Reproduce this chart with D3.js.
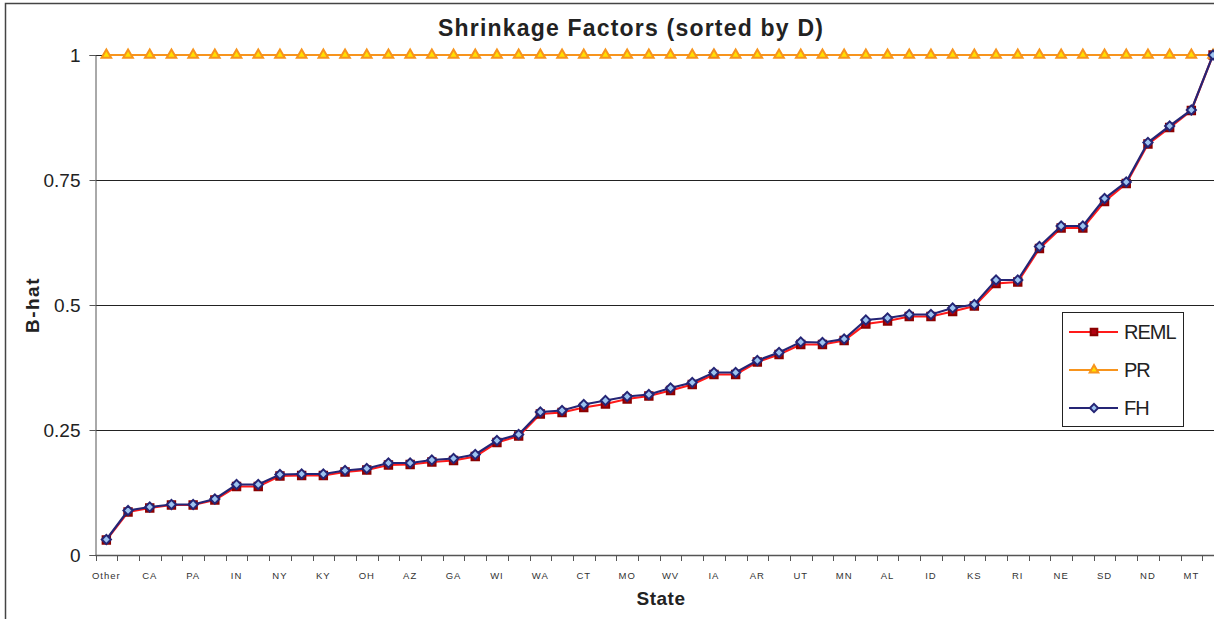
<!DOCTYPE html>
<html>
<head>
<meta charset="utf-8">
<script src="https://cdn.jsdelivr.net/npm/d3@7"></script>
<style>
  body { margin: 0; background: #fff; }
  svg { font-family: "Liberation Sans", Arial, sans-serif; }
</style>
</head>
<body>
<div id="chart"></div>
<script>
// states in order of D (only every other one is labelled on the axis)
var states = ['Other', 'TX', 'CA', 'FL', 'PA', 'NJ', 'IN', 'MA', 'NY', 'IL',
    'KY', 'NC', 'OH', 'MI', 'AZ', 'VA', 'GA', 'TN', 'WI', 'MD',
    'WA', 'OR', 'CT', 'SC', 'MO', 'OK', 'WV', 'CO', 'IA', 'LA',
    'AR', 'MS', 'UT', 'NV', 'MN', 'NM', 'AL', 'ME', 'ID', 'NH',
    'KS', 'HI', 'RI', 'DE', 'NE', 'VT', 'SD', 'WY', 'ND', 'AK',
    'MT', 'DC'];

var fh = [0.031, 0.089, 0.096, 0.101, 0.101, 0.112, 0.141, 0.141, 0.161, 0.162,
    0.162, 0.169, 0.173, 0.184, 0.184, 0.190, 0.193, 0.201, 0.229, 0.241,
    0.286, 0.289, 0.301, 0.309, 0.317, 0.321, 0.334, 0.345, 0.365, 0.365,
    0.389, 0.405, 0.426, 0.425, 0.432, 0.470, 0.474, 0.481, 0.481, 0.494,
    0.501, 0.550, 0.550, 0.617, 0.658, 0.658, 0.713, 0.746, 0.825, 0.858,
    0.890, 1.000];

var reml = [0.030, 0.086, 0.094, 0.100, 0.100, 0.110, 0.137, 0.137, 0.158, 0.159,
    0.159, 0.166, 0.170, 0.180, 0.181, 0.186, 0.189, 0.197, 0.225, 0.238,
    0.282, 0.285, 0.295, 0.302, 0.312, 0.318, 0.329, 0.341, 0.361, 0.361,
    0.386, 0.401, 0.421, 0.421, 0.429, 0.462, 0.468, 0.477, 0.477, 0.487,
    0.498, 0.543, 0.546, 0.613, 0.654, 0.654, 0.707, 0.743, 0.822, 0.855,
    0.889, 1.000];

var pr = states.map(function () { return 1; });

var yTicks = [0, 0.25, 0.5, 0.75, 1];
var yTickLabels = ['0', '0.25', '0.5', '0.75', '1'];

var W = 1214, H = 619;
var left = 95.5, step = 21.7;

// square diamond marker (d3's own diamond is too tall)
var squareDiamond = {
    draw: function (ctx, size) {
        var r = Math.sqrt(size / 2);
        ctx.moveTo(0, -r);
        ctx.lineTo(r, 0);
        ctx.lineTo(0, r);
        ctx.lineTo(-r, 0);
        ctx.closePath();
    }
};

var svg = d3.select('#chart')
    .append('svg')
    .attr('width', W)
    .attr('height', H);

// outer chart border (right and bottom fall outside the picture)
svg.append('rect')
    .attr('x', 5.5).attr('y', 3.5)
    .attr('width', 1400).attr('height', 800)
    .attr('fill', 'none')
    .attr('stroke', '#444')
    .attr('stroke-width', 1.5);

var xScale = d3.scaleBand()
    .domain(d3.range(states.length))
    .range([left, left + step * states.length]);

var yScale = d3.scaleLinear()
    .domain([0, 1])
    .range([555, 55]);

function cx(i) { return xScale(i) + xScale.bandwidth() / 2; }

// gridlines
svg.append('g')
    .selectAll('line')
    .data(yTicks.slice(1))
    .enter()
    .append('line')
    .attr('x1', left).attr('x2', W)
    .attr('y1', function (d) { return Math.round(yScale(d)) + 0.5; })
    .attr('y2', function (d) { return Math.round(yScale(d)) + 0.5; })
    .attr('stroke', '#222')
    .attr('stroke-width', 1);

// y axis
var yAxis = d3.axisLeft(yScale)
    .tickValues(yTicks)
    .tickFormat(function (d, i) { return yTickLabels[i]; })
    .tickSize(6)
    .tickPadding(9);

var gy = svg.append('g')
    .attr('transform', 'translate(' + left + ',0)')
    .call(yAxis);
gy.select('.domain').attr('stroke', '#555');
gy.selectAll('.tick line').attr('stroke', '#555');
gy.selectAll('.tick text')
    .attr('font-size', 19)
    .attr('fill', '#222')
    .attr('font-family', '"Liberation Sans", Arial, sans-serif');

// x axis: ticks sit between the categories
var gx = svg.append('g').attr('class', 'x axis');
gx.append('line')
    .attr('x1', left).attr('x2', W)
    .attr('y1', 555.5).attr('y2', 555.5)
    .attr('stroke', '#555').attr('stroke-width', 1.5);
gx.selectAll('line.tk')
    .data(d3.range(states.length + 1))
    .enter()
    .append('line')
    .attr('class', 'tk')
    .attr('x1', function (i) { return Math.round(left + i * step) + 0.5; })
    .attr('x2', function (i) { return Math.round(left + i * step) + 0.5; })
    .attr('y1', 555).attr('y2', 561)
    .attr('stroke', '#555');
gx.selectAll('text')
    .data(d3.range(0, states.length, 2))
    .enter()
    .append('text')
    .attr('x', function (i) { return cx(i); })
    .attr('y', 579)
    .attr('text-anchor', 'middle')
    .attr('font-size', 9.5)
    .attr('letter-spacing', 1)
    .attr('fill', '#333')
    .text(function (i) { return states[i]; });

// series
var series = [
    { name: 'REML', values: reml, line: '#ff1a1a', width: 2.2, shape: d3.symbolSquare, size: 55, fill: '#b00010', stroke: '#8b0000' },
    { name: 'PR', values: pr, line: '#f7941d', width: 2.2, shape: d3.symbolTriangle, size: 40, fill: '#ffe000', stroke: '#f7941d' },
    { name: 'FH', values: fh, line: '#252575', width: 2.2, shape: squareDiamond, size: 42, fill: '#9cc3f0', stroke: '#252575' }
];

var line = d3.line()
    .x(function (d, i) { return cx(i); })
    .y(function (d) { return yScale(d); });

series.forEach(function (s) {
    var g = svg.append('g');
    g.append('path')
        .datum(s.values)
        .attr('d', line)
        .attr('fill', 'none')
        .attr('stroke', s.line)
        .attr('stroke-width', s.width);
    g.selectAll('path.pt')
        .data(s.values)
        .enter()
        .append('path')
        .attr('class', 'pt')
        .attr('transform', function (d, i) { return 'translate(' + cx(i) + ',' + yScale(d) + ')'; })
        .attr('d', d3.symbol().type(s.shape).size(s.size))
        .attr('fill', s.fill)
        .attr('stroke', s.stroke)
        .attr('stroke-width', 2);
});

// legend
var lg = svg.append('g').attr('transform', 'translate(1062,312)');
lg.append('rect')
    .attr('x', 0.5).attr('y', 0.5)
    .attr('width', 121).attr('height', 114)
    .attr('fill', '#fff')
    .attr('stroke', '#222');
series.forEach(function (s, i) {
    var yy = 20 + i * 38;
    lg.append('line')
        .attr('x1', 7).attr('x2', 56)
        .attr('y1', yy).attr('y2', yy)
        .attr('stroke', s.line).attr('stroke-width', 2);
    lg.append('path')
        .attr('transform', 'translate(32,' + yy + ')')
        .attr('d', d3.symbol().type(s.shape).size(s.size * 0.8))
        .attr('fill', s.fill)
        .attr('stroke', s.stroke)
        .attr('stroke-width', 2);
    lg.append('text')
        .attr('x', 62).attr('y', yy + 7)
        .attr('font-size', 20)
        .attr('letter-spacing', -1)
        .attr('fill', '#222')
        .text(s.name);
});

// titles
svg.append('text')
    .attr('x', 631).attr('y', 36)
    .attr('text-anchor', 'middle')
    .attr('font-size', 23)
    .attr('letter-spacing', 1.2)
    .attr('font-weight', 'bold')
    .attr('fill', '#222')
    .text('Shrinkage Factors (sorted by D)');

svg.append('text')
    .attr('transform', 'translate(39,305) rotate(-90)')
    .attr('text-anchor', 'middle')
    .attr('font-size', 19)
    .attr('letter-spacing', 1.5)
    .attr('font-weight', 'bold')
    .attr('fill', '#222')
    .text('B-hat');

svg.append('text')
    .attr('x', 661).attr('y', 605)
    .attr('text-anchor', 'middle')
    .attr('font-size', 19)
    .attr('letter-spacing', 0.5)
    .attr('font-weight', 'bold')
    .attr('fill', '#222')
    .text('State');
</script>
</body>
</html>
